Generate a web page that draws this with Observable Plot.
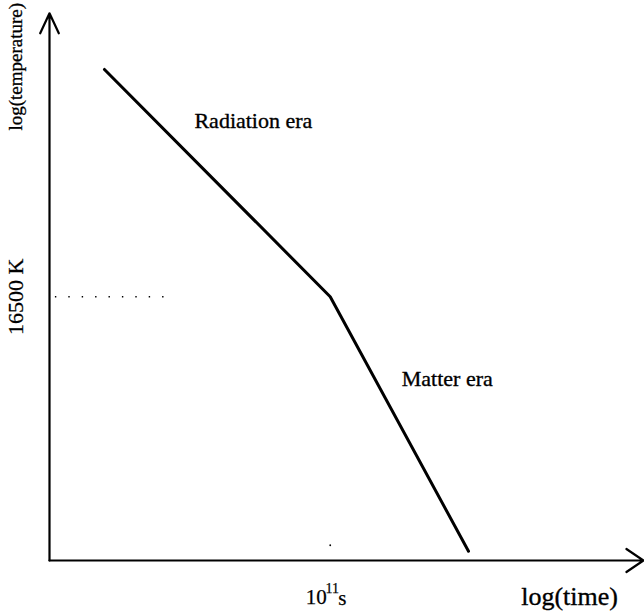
<!DOCTYPE html>
<html>
<head>
<meta charset="utf-8">
<script src="https://cdn.jsdelivr.net/npm/d3@7"></script>
<script src="https://cdn.jsdelivr.net/npm/@observablehq/plot@0.6"></script>
<style>
  html, body { margin: 0; padding: 0; background: #fff; }
  #chart svg { display: block; }
</style>
</head>
<body>
<div id="chart"></div>
<script>
// Schematic: log(temperature) vs log(time), arbitrary log units
const logTime = [0.93, 4.75, 7.09];
const logTemp = [9.01, 4.84, 0.17];
const eraLabels = ["Radiation era", "Matter era"];
const eraLabelX = [3.45, 6.73];
const eraLabelY = [8.07, 3.34];
const yTickValue = 4.84;
const yTickLabel = "16500 K";
const xTickValue = 4.75;
const xTickLabel = "10";
const xTickExp = "11";
const xTickUnit = "s";
const xAxisLabel = "log(time)";
const yAxisLabel = "log(temperature)";

const curve = logTime.map((t, i) => ({t, T: logTemp[i]}));
const eras = eraLabels.map((label, i) => ({label, x: eraLabelX[i], y: eraLabelY[i]}));

const font = "'Liberation Serif', 'Times New Roman', serif";

const chart = Plot.plot({
  width: 644,
  height: 611,
  marginLeft: 49,
  marginRight: 4,
  marginTop: 15,
  marginBottom: 51,
  style: {fontFamily: font, background: "#fff", color: "#000"},
  x: {domain: [0, 10], axis: null},
  y: {domain: [0, 10], axis: null},
  marks: [
    // axes with arrowheads
    Plot.arrow([{x1: 0, y1: 0, x2: 10.05, y2: 0}], {x1: "x1", y1: "y1", x2: "x2", y2: "y2", stroke: "#000", strokeWidth: 2.2, headLength: 14, headAngle: 68}),
    Plot.arrow([{x1: 0, y1: 0, x2: 0, y2: 10.04}], {x1: "x1", y1: "y1", x2: "x2", y2: "y2", stroke: "#000", strokeWidth: 2.2, headLength: 15, headAngle: 50}),
    // dotted reference at 16500 K
    Plot.ruleY([yTickValue], {x1: 0.1, x2: 1.96, stroke: "#000", strokeWidth: 1.4, strokeDasharray: "1.4,12"}),
    // small tick dot at 10^11 s
    Plot.dot([xTickValue], {x: d => d, y: 0.28, r: 0.9, fill: "#000", stroke: "none"}),
    // the temperature curve
    Plot.line(curve, {x: "t", y: "T", stroke: "#000", strokeWidth: 3, strokeLinejoin: "round"}),
    // era labels
    Plot.text(eras, {x: "x", y: "y", text: "label", fontSize: 22, fill: "#000", stroke: "#000", strokeWidth: 0.35, textAnchor: "middle"}),
    // y tick label (rotated)
    Plot.text([yTickLabel], {x: 0, y: yTickValue, text: d => d, rotate: -90, dx: -34, fontSize: 22, fill: "#000", stroke: "#000", strokeWidth: 0.25}),
    // y axis label
    Plot.text([yAxisLabel], {x: 0, y: 9.06, text: d => d, rotate: -90, dx: -34, fontSize: 19, fill: "#000", stroke: "#000", strokeWidth: 0.3}),
    // x tick label 10^11 s
    Plot.text([xTickLabel], {x: xTickValue, y: 0, text: d => d, dy: 37, dx: -14, fontSize: 21, fill: "#000", stroke: "#000", strokeWidth: 0.25}),
    Plot.text([xTickExp], {x: xTickValue, y: 0, text: d => d, dy: 28, dx: 2, fontSize: 14, fill: "#000", stroke: "#000", strokeWidth: 0.25}),
    Plot.text([xTickUnit], {x: xTickValue, y: 0, text: d => d, dy: 38, dx: 12, fontSize: 21, fill: "#000", stroke: "#000", strokeWidth: 0.25}),
    // x axis label
    Plot.text([xAxisLabel], {x: 8.8, y: 0, text: d => d, dy: 36, fontSize: 26, fill: "#000", stroke: "#000", strokeWidth: 0.35})
  ]
});

document.getElementById("chart").appendChild(chart);
</script>
</body>
</html>
